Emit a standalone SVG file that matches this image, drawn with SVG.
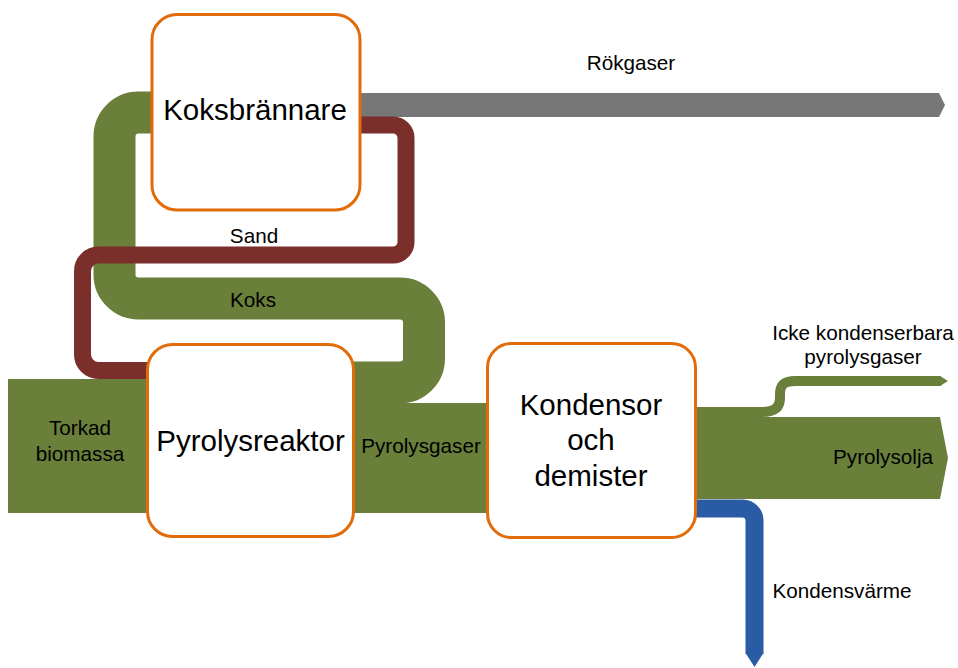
<svg xmlns="http://www.w3.org/2000/svg" width="958" height="668" viewBox="0 0 958 668">
  <style>
    .box { fill: #ffffff; stroke: #E26B0A; stroke-width: 3; }
    .big { font-family: "Liberation Sans", Arial, sans-serif; font-size: 29.5px; fill: #000000; text-anchor: middle; }
    .lbl { font-family: "Liberation Sans", Arial, sans-serif; font-size: 20.7px; fill: #000000; text-anchor: middle; }
    .green { fill: #6A7F3A; }
    .band-green { fill: none; stroke: #6A7F3A; }
    .band-brown { fill: none; stroke: #7A2F2A; stroke-width: 17; }
    .band-blue { fill: none; stroke: #2A5CA6; stroke-width: 18; }
  </style>

  <!-- flow bands -->
  <g id="connectors">
    <!-- flue gas -->
    <path id="flow-rokgaser" d="M 355 93 H 939 L 945 105 L 939 117 H 355 Z" fill="#777777"/>
    <!-- char loop: reactor -> burner -->
    <path id="flow-koks" class="band-green" stroke-width="42" d="M 345 382.5 H 400 A 24 24 0 0 0 424 358.5 V 322.5 A 24 24 0 0 0 400 298.5 H 138.5 A 24 24 0 0 1 114.5 274.5 V 136.5 A 24 24 0 0 1 138.5 112.5 H 160"/>
    <!-- sand loop: burner -> reactor -->
    <path id="flow-sand" class="band-brown" d="M 355 125 H 393 A 13 13 0 0 1 406 138 V 242 A 13 13 0 0 1 393 255 H 98.5 A 16 16 0 0 0 82.5 271 V 354.5 A 16 16 0 0 0 98.5 370.5 H 155"/>
    <!-- dried biomass into reactor -->
    <rect id="flow-biomassa" class="green" x="8" y="379" width="150" height="134"/>
    <!-- pyrolysis gases into condenser -->
    <rect id="flow-pyrolysgaser" class="green" x="345" y="403" width="155" height="110"/>
    <!-- pyrolysis oil out -->
    <path id="flow-pyrolysolja" class="green" d="M 690 417 H 940 L 948 458 L 940 499 H 690 Z"/>
    <!-- non-condensable gases -->
    <path id="flow-icke-kond" class="band-green" stroke-width="10" d="M 690 412 H 762 C 776 412 780 406 780 398 V 394 C 780 385 784 381 795 381 H 941"/>
    <path class="green" d="M 940 376 L 948 381 L 940 386 Z"/>
    <!-- heat of condensation -->
    <path id="flow-kondensvarme" class="band-blue" d="M 690 508.5 H 742.5 A 12 12 0 0 1 754.5 520.5 V 654"/>
    <path d="M 745.5 653 L 763.5 653 L 754.5 667 Z" fill="#2A5CA6"/>
  </g>

  <!-- process units -->
  <g id="koksbrannare">
    <rect class="box" x="152" y="14.5" width="208" height="195.5" rx="25"/>
    <text class="big" x="255" y="120">Koksbrännare</text>
  </g>
  <g id="pyrolysreaktor">
    <rect class="box" x="147.5" y="344.5" width="206" height="192" rx="25"/>
    <text class="big" x="250.5" y="451">Pyrolysreaktor</text>
  </g>
  <g id="kondensor">
    <rect class="box" x="487.5" y="343.5" width="208" height="194" rx="24"/>
    <text class="big" x="591" y="415">Kondensor</text>
    <text class="big" x="591" y="450">och</text>
    <text class="big" x="591" y="486">demister</text>
  </g>

  <!-- flow labels -->
  <g id="labels">
    <text class="lbl" x="631" y="70">Rökgaser</text>
    <text class="lbl" x="254" y="243">Sand</text>
    <text class="lbl" x="253" y="307">Koks</text>
    <text class="lbl" x="80" y="435">Torkad</text>
    <text class="lbl" x="80" y="461">biomassa</text>
    <text class="lbl" x="421" y="453">Pyrolysgaser</text>
    <text class="lbl" x="863" y="340">Icke kondenserbara</text>
    <text class="lbl" x="863" y="364">pyrolysgaser</text>
    <text class="lbl" x="883" y="464">Pyrolysolja</text>
    <text class="lbl" x="842" y="598">Kondensvärme</text>
  </g>
</svg>
